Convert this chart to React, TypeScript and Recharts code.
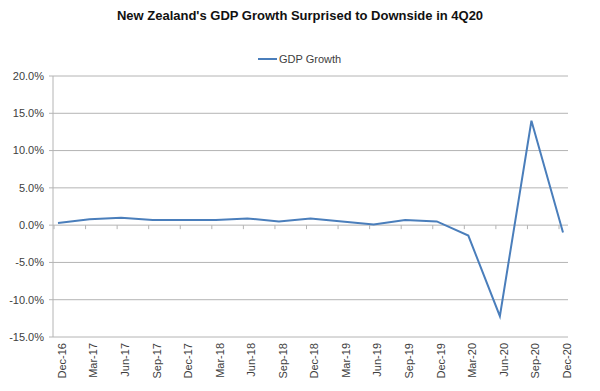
import { LineChart, Line, XAxis, YAxis, CartesianGrid } from 'recharts'

const categories = ['Dec-16', 'Mar-17', 'Jun-17', 'Sep-17', 'Dec-17', 'Mar-18', 'Jun-18', 'Sep-18', 'Dec-18', 'Mar-19', 'Jun-19', 'Sep-19', 'Dec-19', 'Mar-20', 'Jun-20', 'Sep-20', 'Dec-20']
const gdpGrowth = [0.3, 0.8, 1.0, 0.7, 0.7, 0.7, 0.9, 0.5, 0.9, 0.5, 0.1, 0.7, 0.5, -1.4, -12.2, 14.0, -1.0]
const yTicks = [-15, -10, -5, 0, 5, 10, 15, 20]

const data = categories.map((q, i) => ({ q, gdp: gdpGrowth[i] }))

const FONT = '"Liberation Sans", Arial, sans-serif'
const LINE = '#4a7ebb'
const GRID = '#b4b4b4'

function QuarterTick({ x, y, payload }: any) {
  return (
    <g transform={`translate(${x + 4},${y})`}>
      <text transform="rotate(-90)" textAnchor="end" dy="0.35em" fontSize={11} fontFamily={FONT} fill="#404040">
        {payload.value}
      </text>
    </g>
  )
}

// small tick marks hanging under the 0% line, like Excel's category axis
function AxisMark({ cx, cy }: any) {
  if (cx == null || cy == null) return null
  return <line x1={cx - 4} x2={cx - 4} y1={cy} y2={cy + 4} stroke={GRID} strokeWidth={1} />
}

export default function App() {
  return (
    <div style={{ position: 'absolute', left: 0, top: 0, width: 600, height: 391, background: '#fff', fontFamily: FONT }}>
      <div style={{ position: 'absolute', top: 8, width: 600, textAlign: 'center', fontSize: 13, fontWeight: 700, color: '#111', lineHeight: '16px' }}>
        New Zealand's GDP Growth Surprised to Downside in 4Q20
      </div>
      <div style={{ position: 'absolute', top: 51, left: 258, display: 'flex', alignItems: 'center', fontSize: 11, color: '#404040', lineHeight: '16px' }}>
        <span style={{ display: 'inline-block', width: 19, height: 2, background: LINE, marginRight: 2 }} />
        GDP Growth
      </div>
      <LineChart width={600} height={391} data={data} margin={{ top: 76, right: 32, bottom: 0, left: 0 }}>
        <CartesianGrid vertical={false} stroke={GRID} />
        <XAxis
          dataKey="q"
          interval={0}
          height={54}
          padding={{ left: 5, right: 5 }}
          axisLine={false}
          tickLine={false}
          tickSize={0}
          tickMargin={6}
          tick={<QuarterTick />}
        />
        <YAxis
          domain={[-15, 20]}
          ticks={yTicks}
          width={53}
          tickSize={4}
          tickMargin={5}
          stroke={GRID}
          tick={{ fill: '#404040', fontSize: 11, fontFamily: FONT }}
          tickFormatter={(v: number) => `${v.toFixed(1)}%`}
        />
        <Line dataKey={() => 0} stroke="none" dot={<AxisMark />} activeDot={false} isAnimationActive={false} legendType="none" />
        <Line type="linear" dataKey="gdp" stroke={LINE} strokeWidth={2} dot={false} isAnimationActive={false} />
      </LineChart>
    </div>
  )
}
